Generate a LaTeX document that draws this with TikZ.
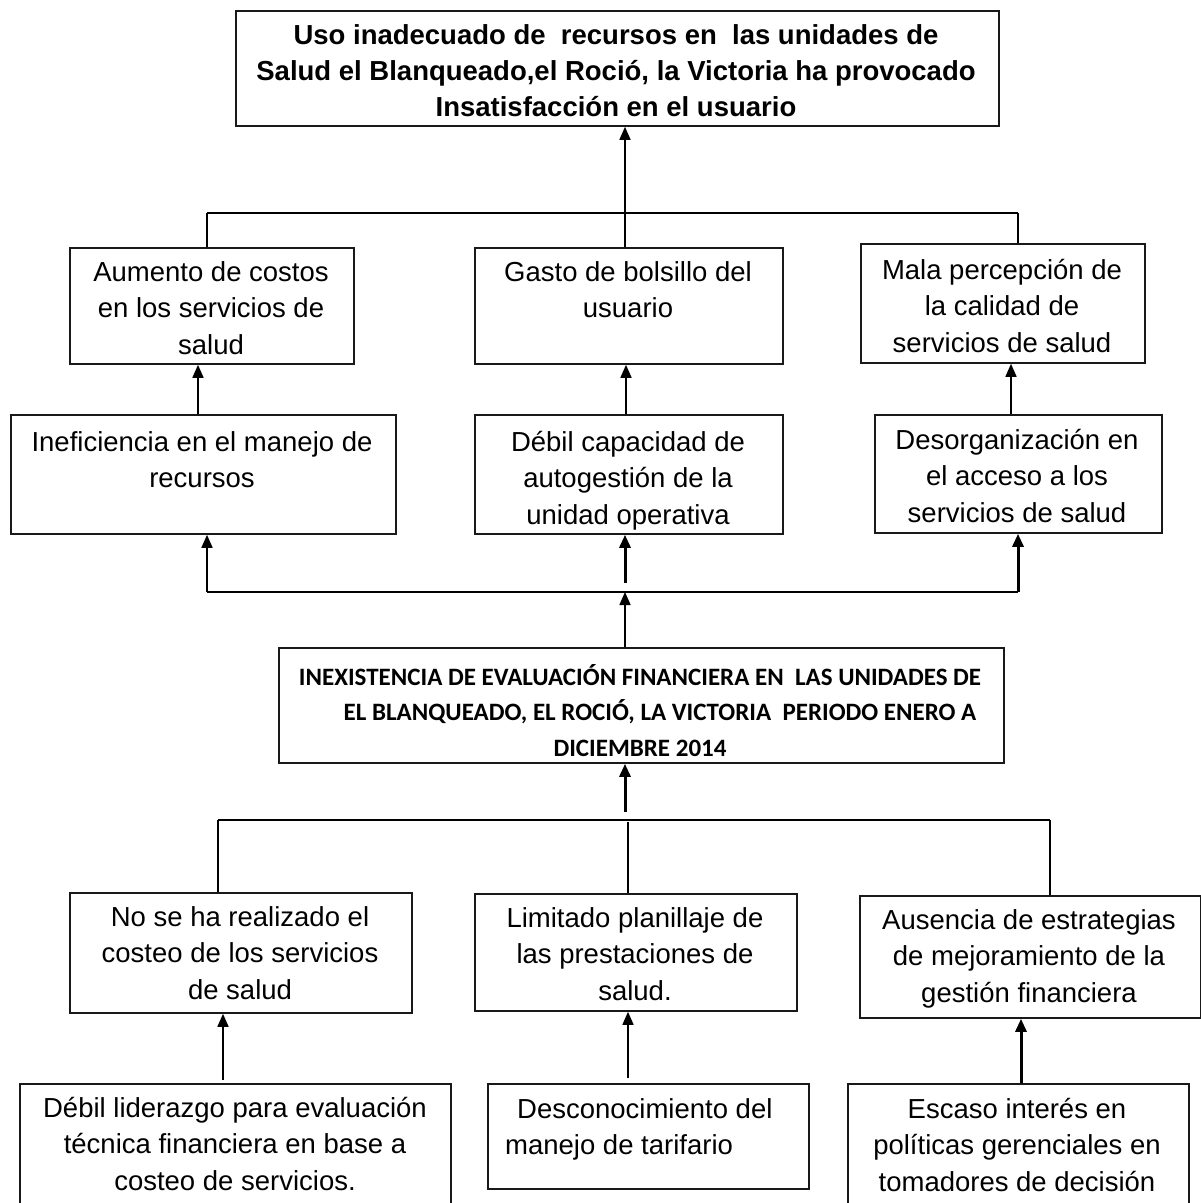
\documentclass[tikz,border=0pt]{standalone}
\usepackage{fontspec}
\setmainfont{Liberation Sans}
\newfontfamily\calb{Carlito}
\usetikzlibrary{arrows.meta}
\newcommand\mystrut{\rule{0pt}{24pt}}
\begin{document}
\begin{tikzpicture}[x=1pt,y=-1pt,
  box/.style={draw=black!90, line width=1.8pt, inner sep=0pt, anchor=north west},
  txt/.style={font=\fontsize{27.5}{36.5}\selectfont, align=center, inner sep=0pt, anchor=north},
  ttl/.style={font=\bfseries\fontsize{27.5}{36}\selectfont, align=center, inner sep=0pt, anchor=north},
  mtl/.style={font=\calb\bfseries\fontsize{25}{35.5}\selectfont, align=center, inner sep=0pt, anchor=north},
  ln/.style={line width=1.6pt},
  arr/.style={line width=1.6pt, -{Triangle[width=11pt,length=13pt]}},
  tarr/.style={line width=3pt, -{Triangle[width=11pt,length=13pt]}},
]
\clip (0,0) rectangle (1201,1203);
\useasboundingbox (0,0) rectangle (1201,1203);
\fill[white] (0,0) rectangle (1201,1203);

% boxes
\node[box, minimum width=763pt, minimum height=115pt] (top) at (235,10) {};
\node[box, minimum width=284pt, minimum height=116pt] (a) at (69,247) {};
\node[box, minimum width=308pt, minimum height=116pt] (g) at (474,247) {};
\node[box, minimum width=284pt, minimum height=119pt] (m) at (860,243) {};
\node[box, minimum width=385pt, minimum height=119pt] (i) at (10,414) {};
\node[box, minimum width=308pt, minimum height=119pt] (d) at (474,414) {};
\node[box, minimum width=287pt, minimum height=118pt] (o) at (874,414) {};
\node[box, minimum width=725pt, minimum height=115pt] (mid) at (278,647) {};
\node[box, minimum width=342pt, minimum height=120pt] (n) at (69,892) {};
\node[box, minimum width=322pt, minimum height=117pt] (l) at (474,893) {};
\node[box, minimum width=341pt, minimum height=122pt] (s) at (859,895) {};
\node[box, minimum width=431pt, minimum height=140pt] (b1) at (19,1083) {};
\node[box, minimum width=321pt, minimum height=105pt] (b2) at (487,1083) {};
\node[box, minimum width=341pt, minimum height=140pt] (b3) at (847,1083) {};

% texts
\node[ttl] (topt) at (616,20) {\mystrut Uso inadecuado de~ recursos en~ las unidades de\\Salud el Blanqueado,el Roció, la Victoria ha provocado\\Insatisfacción en el usuario};
\node[txt] (at) at (211,257) {\mystrut Aumento de costos\\en los servicios de\\salud};
\node[txt] (gt) at (628,257) {\mystrut Gasto de bolsillo del\\usuario};
\node[txt] (mt) at (1002,255) {\mystrut Mala percepción de\\la calidad de\\servicios de salud};
\node[txt] (it) at (202,427) {\mystrut Ineficiencia en el manejo de\\recursos};
\node[txt] (dt) at (628,427) {\mystrut Débil capacidad de\\autogestión de la\\unidad operativa};
\node[txt] (ot) at (1017,425) {\mystrut Desorganización en\\el acceso a los\\servicios de salud};
\node[mtl] (midt) at (640,661) {\mystrut INEXISTENCIA DE EVALUACIÓN FINANCIERA EN~ LAS UNIDADES DE\\\hspace*{40pt}EL BLANQUEADO, EL ROCIÓ, LA VICTORIA~ PERIODO ENERO A\\DICIEMBRE 2014};
\node[txt] (nt) at (240,902) {\mystrut No se ha realizado el\\costeo de los servicios\\de salud};
\node[txt] (lt) at (635,903) {\mystrut Limitado planillaje de\\las prestaciones de\\salud.};
\node[txt] (st) at (1029,905) {\mystrut Ausencia de estrategias\\de mejoramiento de la\\gestión financiera};
\node[txt] (b1t) at (235,1093) {\mystrut Débil liderazgo para evaluación\\técnica financiera en base a\\costeo de servicios.};
\node[txt, align=left, anchor=north west] (b2t) at (505,1094) {\mystrut\hspace*{12pt}Desconocimiento del\\manejo de tarifario};
\node[txt] (b3t) at (1017,1094) {\mystrut Escaso interés en\\políticas gerenciales en\\tomadores de decisión};

% upper connectors
\coordinate (jl) at (207,213);
\coordinate (jc) at (625,213);
\coordinate (jr) at (1018,213);
\draw[arr] (jc) -- (jc |- top.south);
\draw[ln] (jl) -- (jr);
\draw[ln] (jl) -- (jl |- a.north);
\draw[ln] (jc) -- (jc |- g.north);
\draw[ln] (jr) -- (jr |- m.north);

\coordinate (ka) at (198,0);
\coordinate (kg) at (626,0);
\coordinate (km) at (1011,0);
\draw[arr] (ka |- i.north) -- (ka |- a.south);
\draw[arr] (kg |- d.north) -- (kg |- g.south);
\draw[arr] (km |- o.north) -- (km |- m.south);

\coordinate (ll) at (207,592);
\coordinate (lc) at (625,592);
\coordinate (lc2) at (625,583);
\coordinate (lr) at (1018,592);
\draw[ln] (ll) -- (lr);
\draw[arr] (ll) -- (ll |- i.south);
\draw[tarr] (lc2) -- (lc2 |- d.south);
\draw[tarr] (lr) -- (lr |- o.south);
\draw[arr] (lc |- mid.north) -- (lc);

% lower connectors
\coordinate (mc) at (625,812);
\draw[tarr] (mc) -- (mc |- mid.south);
\coordinate (bl) at (218,820);
\coordinate (br) at (1050,820);
\coordinate (bc) at (628,822);
\draw[ln] (bl) -- (br);
\draw[ln] (bl) -- (bl |- n.north);
\draw[ln] (bc) -- (bc |- l.north);
\draw[ln] (br) -- (br |- s.north);

\coordinate (kn) at (223,1080);
\coordinate (kl) at (628,1078);
\coordinate (ks) at (1021,0);
\draw[arr] (kn) -- (kn |- n.south);
\draw[arr] (kl) -- (kl |- l.south);
\draw[tarr] (ks |- b3.north) -- (ks |- s.south);
\end{tikzpicture}
\end{document}
